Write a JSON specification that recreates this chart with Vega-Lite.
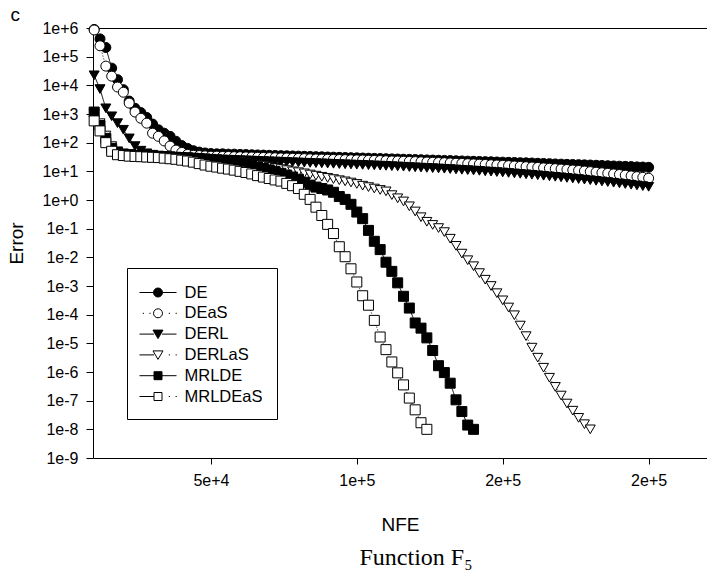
{
"$schema": "https://vega.github.io/schema/vega-lite/v6.json",
"width": 614, "height": 430,
"autosize": {"type": "none"},
"padding": {"left": 93, "top": 28, "right": 0, "bottom": 112},
"background": "white",
"title": {"text": "Function F₅", "orient": "bottom", "frame": "group", "anchor": "middle", "dx": 16, "font": "Liberation Serif", "fontSize": 24, "fontWeight": "normal", "color": "black", "offset": 12},
"data": {"values": [
{"s":"DE","x":10000,"y":891000},{"s":"DE","x":12000,"y":417000},{"s":"DE","x":14000,"y":209000},{"s":"DE","x":16000,"y":39800},{"s":"DE","x":18000,"y":15800},{"s":"DE","x":20000,"y":7080},{"s":"DE","x":22000,"y":2820},{"s":"DE","x":24000,"y":1580},{"s":"DE","x":26000,"y":1120},{"s":"DE","x":28000,"y":759},{"s":"DE","x":30000,"y":447},{"s":"DE","x":32000,"y":282},{"s":"DE","x":34000,"y":214},{"s":"DE","x":36000,"y":166},{"s":"DE","x":38000,"y":112},{"s":"DE","x":40000,"y":79.4},{"s":"DE","x":42000,"y":63.1},{"s":"DE","x":44000,"y":52.5},{"s":"DE","x":46000,"y":46.8},{"s":"DE","x":48000,"y":43.7},{"s":"DE","x":50000,"y":41.7},{"s":"DE","x":52000,"y":40.7},{"s":"DE","x":54000,"y":40.7},{"s":"DE","x":56000,"y":39.8},{"s":"DE","x":58000,"y":39.8},{"s":"DE","x":60000,"y":38.9},{"s":"DE","x":62000,"y":38.5},{"s":"DE","x":64000,"y":37.8},{"s":"DE","x":66000,"y":37.3},{"s":"DE","x":68000,"y":36.8},{"s":"DE","x":70000,"y":36.3},{"s":"DE","x":72000,"y":35.8},{"s":"DE","x":74000,"y":35.3},{"s":"DE","x":76000,"y":34.8},{"s":"DE","x":78000,"y":34.4},{"s":"DE","x":80000,"y":33.9},{"s":"DE","x":82000,"y":33.4},{"s":"DE","x":84000,"y":33.0},{"s":"DE","x":86000,"y":32.5},{"s":"DE","x":88000,"y":32.1},{"s":"DE","x":90000,"y":31.6},{"s":"DE","x":92000,"y":31.2},{"s":"DE","x":94000,"y":30.8},{"s":"DE","x":96000,"y":30.3},{"s":"DE","x":98000,"y":29.9},{"s":"DE","x":100000,"y":29.5},{"s":"DE","x":102000,"y":29.1},{"s":"DE","x":104000,"y":28.7},{"s":"DE","x":106000,"y":28.3},{"s":"DE","x":108000,"y":27.9},{"s":"DE","x":110000,"y":27.5},{"s":"DE","x":112000,"y":27.2},{"s":"DE","x":114000,"y":26.8},{"s":"DE","x":116000,"y":26.4},{"s":"DE","x":118000,"y":26.1},{"s":"DE","x":120000,"y":25.7},{"s":"DE","x":122000,"y":25.4},{"s":"DE","x":124000,"y":25.0},{"s":"DE","x":126000,"y":24.7},{"s":"DE","x":128000,"y":24.3},{"s":"DE","x":130000,"y":24.0},{"s":"DE","x":132000,"y":23.7},{"s":"DE","x":134000,"y":23.3},{"s":"DE","x":136000,"y":23.0},{"s":"DE","x":138000,"y":22.7},{"s":"DE","x":140000,"y":22.4},{"s":"DE","x":142000,"y":22.1},{"s":"DE","x":144000,"y":21.8},{"s":"DE","x":146000,"y":21.5},{"s":"DE","x":148000,"y":21.2},{"s":"DE","x":150000,"y":20.9},{"s":"DE","x":152000,"y":20.6},{"s":"DE","x":154000,"y":20.3},{"s":"DE","x":156000,"y":20.0},{"s":"DE","x":158000,"y":19.8},{"s":"DE","x":160000,"y":19.5},{"s":"DE","x":162000,"y":19.1},{"s":"DE","x":164000,"y":18.8},{"s":"DE","x":166000,"y":18.5},{"s":"DE","x":168000,"y":18.1},{"s":"DE","x":170000,"y":17.8},{"s":"DE","x":172000,"y":17.5},{"s":"DE","x":174000,"y":17.3},{"s":"DE","x":176000,"y":17.1},{"s":"DE","x":178000,"y":16.8},{"s":"DE","x":180000,"y":16.6},{"s":"DE","x":182000,"y":16.3},{"s":"DE","x":184000,"y":16.0},{"s":"DE","x":186000,"y":15.7},{"s":"DE","x":188000,"y":15.4},{"s":"DE","x":190000,"y":15.1},{"s":"DE","x":192000,"y":14.9},{"s":"DE","x":194000,"y":14.6},{"s":"DE","x":196000,"y":14.3},{"s":"DE","x":198000,"y":14.1},{"s":"DE","x":200000,"y":13.8},
{"s":"DEaS","x":10000,"y":851000},{"s":"DEaS","x":12000,"y":240000},{"s":"DEaS","x":14000,"y":46800},{"s":"DEaS","x":16000,"y":20900},{"s":"DEaS","x":18000,"y":8710},{"s":"DEaS","x":20000,"y":5750},{"s":"DEaS","x":22000,"y":2400},{"s":"DEaS","x":24000,"y":1170},{"s":"DEaS","x":26000,"y":708},{"s":"DEaS","x":28000,"y":479},{"s":"DEaS","x":30000,"y":214},{"s":"DEaS","x":32000,"y":166},{"s":"DEaS","x":34000,"y":115},{"s":"DEaS","x":36000,"y":75.9},{"s":"DEaS","x":38000,"y":55.0},{"s":"DEaS","x":40000,"y":45.7},{"s":"DEaS","x":42000,"y":38.9},{"s":"DEaS","x":44000,"y":36.3},{"s":"DEaS","x":46000,"y":35.5},{"s":"DEaS","x":48000,"y":34.7},{"s":"DEaS","x":50000,"y":33.9},{"s":"DEaS","x":52000,"y":33.9},{"s":"DEaS","x":54000,"y":33.1},{"s":"DEaS","x":56000,"y":33.1},{"s":"DEaS","x":58000,"y":32.4},{"s":"DEaS","x":60000,"y":32.4},{"s":"DEaS","x":62000,"y":31.9},{"s":"DEaS","x":64000,"y":31.5},{"s":"DEaS","x":66000,"y":31.0},{"s":"DEaS","x":68000,"y":30.6},{"s":"DEaS","x":70000,"y":30.2},{"s":"DEaS","x":72000,"y":29.8},{"s":"DEaS","x":74000,"y":29.4},{"s":"DEaS","x":76000,"y":29.0},{"s":"DEaS","x":78000,"y":28.6},{"s":"DEaS","x":80000,"y":28.2},{"s":"DEaS","x":82000,"y":27.8},{"s":"DEaS","x":84000,"y":27.4},{"s":"DEaS","x":86000,"y":27.0},{"s":"DEaS","x":88000,"y":26.7},{"s":"DEaS","x":90000,"y":26.3},{"s":"DEaS","x":92000,"y":26.1},{"s":"DEaS","x":94000,"y":25.8},{"s":"DEaS","x":96000,"y":25.6},{"s":"DEaS","x":98000,"y":25.4},{"s":"DEaS","x":100000,"y":25.1},{"s":"DEaS","x":102000,"y":24.8},{"s":"DEaS","x":104000,"y":24.4},{"s":"DEaS","x":106000,"y":24.1},{"s":"DEaS","x":108000,"y":23.8},{"s":"DEaS","x":110000,"y":23.4},{"s":"DEaS","x":112000,"y":23.1},{"s":"DEaS","x":114000,"y":22.8},{"s":"DEaS","x":116000,"y":22.5},{"s":"DEaS","x":118000,"y":22.2},{"s":"DEaS","x":120000,"y":21.9},{"s":"DEaS","x":122000,"y":21.5},{"s":"DEaS","x":124000,"y":21.1},{"s":"DEaS","x":126000,"y":20.7},{"s":"DEaS","x":128000,"y":20.3},{"s":"DEaS","x":130000,"y":20.0},{"s":"DEaS","x":132000,"y":19.6},{"s":"DEaS","x":134000,"y":19.2},{"s":"DEaS","x":136000,"y":18.9},{"s":"DEaS","x":138000,"y":18.5},{"s":"DEaS","x":140000,"y":18.2},{"s":"DEaS","x":142000,"y":17.8},{"s":"DEaS","x":144000,"y":17.4},{"s":"DEaS","x":146000,"y":17.0},{"s":"DEaS","x":148000,"y":16.6},{"s":"DEaS","x":150000,"y":16.2},{"s":"DEaS","x":152000,"y":15.8},{"s":"DEaS","x":154000,"y":15.3},{"s":"DEaS","x":156000,"y":14.9},{"s":"DEaS","x":158000,"y":14.5},{"s":"DEaS","x":160000,"y":14.1},{"s":"DEaS","x":162000,"y":13.7},{"s":"DEaS","x":164000,"y":13.2},{"s":"DEaS","x":166000,"y":12.8},{"s":"DEaS","x":168000,"y":12.4},{"s":"DEaS","x":170000,"y":12.0},{"s":"DEaS","x":172000,"y":11.6},{"s":"DEaS","x":174000,"y":11.1},{"s":"DEaS","x":176000,"y":10.7},{"s":"DEaS","x":178000,"y":10.2},{"s":"DEaS","x":180000,"y":9.77},{"s":"DEaS","x":182000,"y":9.33},{"s":"DEaS","x":184000,"y":8.91},{"s":"DEaS","x":186000,"y":8.51},{"s":"DEaS","x":188000,"y":8.13},{"s":"DEaS","x":190000,"y":7.76},{"s":"DEaS","x":192000,"y":7.33},{"s":"DEaS","x":194000,"y":6.92},{"s":"DEaS","x":196000,"y":6.53},{"s":"DEaS","x":198000,"y":6.17},{"s":"DEaS","x":200000,"y":5.75},
{"s":"DERL","x":10000,"y":22400},{"s":"DERL","x":12000,"y":7410},{"s":"DERL","x":14000,"y":1580},{"s":"DERL","x":16000,"y":832},{"s":"DERL","x":18000,"y":479},{"s":"DERL","x":20000,"y":282},{"s":"DERL","x":22000,"y":141},{"s":"DERL","x":24000,"y":75.9},{"s":"DERL","x":26000,"y":52.5},{"s":"DERL","x":28000,"y":42.7},{"s":"DERL","x":30000,"y":38.0},{"s":"DERL","x":32000,"y":35.5},{"s":"DERL","x":34000,"y":33.9},{"s":"DERL","x":36000,"y":33.1},{"s":"DERL","x":38000,"y":31.6},{"s":"DERL","x":40000,"y":30.9},{"s":"DERL","x":42000,"y":30.2},{"s":"DERL","x":44000,"y":29.5},{"s":"DERL","x":46000,"y":28.5},{"s":"DERL","x":48000,"y":27.7},{"s":"DERL","x":50000,"y":26.9},{"s":"DERL","x":52000,"y":26.4},{"s":"DERL","x":54000,"y":25.9},{"s":"DERL","x":56000,"y":25.5},{"s":"DERL","x":58000,"y":25.0},{"s":"DERL","x":60000,"y":24.5},{"s":"DERL","x":62000,"y":24.1},{"s":"DERL","x":64000,"y":23.7},{"s":"DERL","x":66000,"y":23.2},{"s":"DERL","x":68000,"y":22.8},{"s":"DERL","x":70000,"y":22.4},{"s":"DERL","x":72000,"y":22.0},{"s":"DERL","x":74000,"y":21.6},{"s":"DERL","x":76000,"y":21.2},{"s":"DERL","x":78000,"y":20.8},{"s":"DERL","x":80000,"y":20.4},{"s":"DERL","x":82000,"y":20.0},{"s":"DERL","x":84000,"y":19.7},{"s":"DERL","x":86000,"y":19.3},{"s":"DERL","x":88000,"y":19.0},{"s":"DERL","x":90000,"y":18.6},{"s":"DERL","x":92000,"y":18.3},{"s":"DERL","x":94000,"y":17.9},{"s":"DERL","x":96000,"y":17.6},{"s":"DERL","x":98000,"y":17.3},{"s":"DERL","x":100000,"y":17.0},{"s":"DERL","x":102000,"y":16.7},{"s":"DERL","x":104000,"y":16.4},{"s":"DERL","x":106000,"y":16.1},{"s":"DERL","x":108000,"y":15.8},{"s":"DERL","x":110000,"y":15.5},{"s":"DERL","x":112000,"y":15.1},{"s":"DERL","x":114000,"y":14.8},{"s":"DERL","x":116000,"y":14.5},{"s":"DERL","x":118000,"y":14.1},{"s":"DERL","x":120000,"y":13.8},{"s":"DERL","x":122000,"y":13.5},{"s":"DERL","x":124000,"y":13.2},{"s":"DERL","x":126000,"y":12.9},{"s":"DERL","x":128000,"y":12.6},{"s":"DERL","x":130000,"y":12.3},{"s":"DERL","x":132000,"y":12.0},{"s":"DERL","x":134000,"y":11.6},{"s":"DERL","x":136000,"y":11.3},{"s":"DERL","x":138000,"y":11.0},{"s":"DERL","x":140000,"y":10.7},{"s":"DERL","x":142000,"y":10.4},{"s":"DERL","x":144000,"y":10.0},{"s":"DERL","x":146000,"y":9.73},{"s":"DERL","x":148000,"y":9.42},{"s":"DERL","x":150000,"y":9.12},{"s":"DERL","x":152000,"y":8.79},{"s":"DERL","x":154000,"y":8.47},{"s":"DERL","x":156000,"y":8.17},{"s":"DERL","x":158000,"y":7.87},{"s":"DERL","x":160000,"y":7.59},{"s":"DERL","x":162000,"y":7.28},{"s":"DERL","x":164000,"y":6.98},{"s":"DERL","x":166000,"y":6.70},{"s":"DERL","x":168000,"y":6.43},{"s":"DERL","x":170000,"y":6.17},{"s":"DERL","x":172000,"y":5.89},{"s":"DERL","x":174000,"y":5.62},{"s":"DERL","x":176000,"y":5.37},{"s":"DERL","x":178000,"y":5.13},{"s":"DERL","x":180000,"y":4.90},{"s":"DERL","x":182000,"y":4.66},{"s":"DERL","x":184000,"y":4.43},{"s":"DERL","x":186000,"y":4.21},{"s":"DERL","x":188000,"y":4.00},{"s":"DERL","x":190000,"y":3.80},{"s":"DERL","x":192000,"y":3.60},{"s":"DERL","x":194000,"y":3.40},{"s":"DERL","x":196000,"y":3.22},{"s":"DERL","x":198000,"y":3.05},{"s":"DERL","x":200000,"y":2.88},
{"s":"DERLaS","x":10000,"y":1000},{"s":"DERLaS","x":12000,"y":479},{"s":"DERLaS","x":14000,"y":178},{"s":"DERLaS","x":16000,"y":75.9},{"s":"DERLaS","x":18000,"y":50.1},{"s":"DERLaS","x":20000,"y":41.7},{"s":"DERLaS","x":22000,"y":38.9},{"s":"DERLaS","x":24000,"y":37.2},{"s":"DERLaS","x":26000,"y":36.3},{"s":"DERLaS","x":28000,"y":35.5},{"s":"DERLaS","x":30000,"y":34.7},{"s":"DERLaS","x":32000,"y":33.9},{"s":"DERLaS","x":34000,"y":33.1},{"s":"DERLaS","x":36000,"y":32.4},{"s":"DERLaS","x":38000,"y":31.6},{"s":"DERLaS","x":40000,"y":30.9},{"s":"DERLaS","x":42000,"y":30.2},{"s":"DERLaS","x":44000,"y":29.5},{"s":"DERLaS","x":46000,"y":28.8},{"s":"DERLaS","x":48000,"y":28.2},{"s":"DERLaS","x":50000,"y":27.5},{"s":"DERLaS","x":52000,"y":26.3},{"s":"DERLaS","x":54000,"y":25.1},{"s":"DERLaS","x":56000,"y":24.0},{"s":"DERLaS","x":58000,"y":22.4},{"s":"DERLaS","x":60000,"y":20.9},{"s":"DERLaS","x":62000,"y":19.5},{"s":"DERLaS","x":64000,"y":18.2},{"s":"DERLaS","x":66000,"y":17.0},{"s":"DERLaS","x":68000,"y":15.8},{"s":"DERLaS","x":70000,"y":14.5},{"s":"DERLaS","x":72000,"y":13.2},{"s":"DERLaS","x":74000,"y":12.0},{"s":"DERLaS","x":76000,"y":11.0},{"s":"DERLaS","x":78000,"y":10.0},{"s":"DERLaS","x":80000,"y":9.33},{"s":"DERLaS","x":82000,"y":8.51},{"s":"DERLaS","x":84000,"y":7.76},{"s":"DERLaS","x":86000,"y":7.08},{"s":"DERLaS","x":88000,"y":6.46},{"s":"DERLaS","x":90000,"y":5.89},{"s":"DERLaS","x":92000,"y":5.37},{"s":"DERLaS","x":94000,"y":4.90},{"s":"DERLaS","x":96000,"y":4.47},{"s":"DERLaS","x":98000,"y":4.07},{"s":"DERLaS","x":100000,"y":3.63},{"s":"DERLaS","x":102000,"y":3.16},{"s":"DERLaS","x":104000,"y":2.82},{"s":"DERLaS","x":106000,"y":2.51},{"s":"DERLaS","x":108000,"y":2.24},{"s":"DERLaS","x":110000,"y":2.00},{"s":"DERLaS","x":112000,"y":1.48},{"s":"DERLaS","x":114000,"y":1.15},{"s":"DERLaS","x":116000,"y":0.891},{"s":"DERLaS","x":118000,"y":0.603},{"s":"DERLaS","x":120000,"y":0.398},{"s":"DERLaS","x":122000,"y":0.251},{"s":"DERLaS","x":124000,"y":0.174},{"s":"DERLaS","x":126000,"y":0.135},{"s":"DERLaS","x":128000,"y":0.105},{"s":"DERLaS","x":130000,"y":0.0759},{"s":"DERLaS","x":132000,"y":0.0447},{"s":"DERLaS","x":134000,"y":0.0251},{"s":"DERLaS","x":136000,"y":0.0135},{"s":"DERLaS","x":138000,"y":0.00794},{"s":"DERLaS","x":140000,"y":0.0049},{"s":"DERLaS","x":142000,"y":0.00282},{"s":"DERLaS","x":144000,"y":0.00166},{"s":"DERLaS","x":146000,"y":0.001},{"s":"DERLaS","x":148000,"y":0.000562},{"s":"DERLaS","x":150000,"y":0.000316},{"s":"DERLaS","x":152000,"y":0.000178},{"s":"DERLaS","x":154000,"y":9.55e-5},{"s":"DERLaS","x":156000,"y":4.17e-5},{"s":"DERLaS","x":158000,"y":1.78e-5},{"s":"DERLaS","x":160000,"y":7.08e-6},{"s":"DERLaS","x":162000,"y":3.16e-6},{"s":"DERLaS","x":164000,"y":1.41e-6},{"s":"DERLaS","x":166000,"y":6.31e-7},{"s":"DERLaS","x":168000,"y":3.02e-7},{"s":"DERLaS","x":170000,"y":1.51e-7},{"s":"DERLaS","x":172000,"y":7.94e-8},{"s":"DERLaS","x":174000,"y":4.47e-8},{"s":"DERLaS","x":176000,"y":2.51e-8},{"s":"DERLaS","x":178000,"y":1.51e-8},{"s":"DERLaS","x":180000,"y":1.0e-8},
{"s":"MRLDE","x":10000,"y":1170},{"s":"MRLDE","x":12000,"y":398},{"s":"MRLDE","x":14000,"y":141},{"s":"MRLDE","x":16000,"y":63.1},{"s":"MRLDE","x":18000,"y":45.7},{"s":"MRLDE","x":20000,"y":39.8},{"s":"MRLDE","x":22000,"y":38.0},{"s":"MRLDE","x":24000,"y":36.3},{"s":"MRLDE","x":26000,"y":35.5},{"s":"MRLDE","x":28000,"y":34.7},{"s":"MRLDE","x":30000,"y":33.9},{"s":"MRLDE","x":32000,"y":33.1},{"s":"MRLDE","x":34000,"y":32.4},{"s":"MRLDE","x":36000,"y":31.6},{"s":"MRLDE","x":38000,"y":30.9},{"s":"MRLDE","x":40000,"y":30.2},{"s":"MRLDE","x":42000,"y":29.5},{"s":"MRLDE","x":44000,"y":28.8},{"s":"MRLDE","x":46000,"y":27.5},{"s":"MRLDE","x":48000,"y":26.3},{"s":"MRLDE","x":50000,"y":25.1},{"s":"MRLDE","x":52000,"y":24.0},{"s":"MRLDE","x":54000,"y":22.9},{"s":"MRLDE","x":56000,"y":21.9},{"s":"MRLDE","x":58000,"y":20.4},{"s":"MRLDE","x":60000,"y":19.1},{"s":"MRLDE","x":62000,"y":17.8},{"s":"MRLDE","x":64000,"y":15.8},{"s":"MRLDE","x":66000,"y":14.1},{"s":"MRLDE","x":68000,"y":12.6},{"s":"MRLDE","x":70000,"y":11.2},{"s":"MRLDE","x":72000,"y":9.77},{"s":"MRLDE","x":74000,"y":8.51},{"s":"MRLDE","x":76000,"y":7.41},{"s":"MRLDE","x":78000,"y":6.31},{"s":"MRLDE","x":80000,"y":5.25},{"s":"MRLDE","x":82000,"y":4.17},{"s":"MRLDE","x":84000,"y":3.31},{"s":"MRLDE","x":86000,"y":2.82},{"s":"MRLDE","x":88000,"y":2.51},{"s":"MRLDE","x":90000,"y":2.24},{"s":"MRLDE","x":92000,"y":1.86},{"s":"MRLDE","x":94000,"y":1.32},{"s":"MRLDE","x":96000,"y":1.05},{"s":"MRLDE","x":98000,"y":0.708},{"s":"MRLDE","x":100000,"y":0.38},{"s":"MRLDE","x":102000,"y":0.224},{"s":"MRLDE","x":104000,"y":0.0871},{"s":"MRLDE","x":106000,"y":0.0363},{"s":"MRLDE","x":108000,"y":0.0186},{"s":"MRLDE","x":110000,"y":0.00676},{"s":"MRLDE","x":112000,"y":0.00324},{"s":"MRLDE","x":114000,"y":0.00129},{"s":"MRLDE","x":116000,"y":0.000437},{"s":"MRLDE","x":118000,"y":0.00017},{"s":"MRLDE","x":120000,"y":5.13e-5},{"s":"MRLDE","x":122000,"y":3.39e-5},{"s":"MRLDE","x":124000,"y":1.55e-5},{"s":"MRLDE","x":126000,"y":5.62e-6},{"s":"MRLDE","x":128000,"y":1.66e-6},{"s":"MRLDE","x":130000,"y":9.55e-7},{"s":"MRLDE","x":132000,"y":4.07e-7},{"s":"MRLDE","x":134000,"y":1.07e-7},{"s":"MRLDE","x":136000,"y":4.17e-8},{"s":"MRLDE","x":138000,"y":1.41e-8},{"s":"MRLDE","x":140000,"y":1.0e-8},
{"s":"MRLDEaS","x":10000,"y":575},{"s":"MRLDEaS","x":12000,"y":257},{"s":"MRLDEaS","x":14000,"y":100},{"s":"MRLDEaS","x":16000,"y":50.1},{"s":"MRLDEaS","x":18000,"y":38.0},{"s":"MRLDEaS","x":20000,"y":35.5},{"s":"MRLDEaS","x":22000,"y":33.9},{"s":"MRLDEaS","x":24000,"y":33.1},{"s":"MRLDEaS","x":26000,"y":32.4},{"s":"MRLDEaS","x":28000,"y":31.6},{"s":"MRLDEaS","x":30000,"y":30.9},{"s":"MRLDEaS","x":32000,"y":30.2},{"s":"MRLDEaS","x":34000,"y":28.8},{"s":"MRLDEaS","x":36000,"y":27.5},{"s":"MRLDEaS","x":38000,"y":26.3},{"s":"MRLDEaS","x":40000,"y":24.5},{"s":"MRLDEaS","x":42000,"y":22.9},{"s":"MRLDEaS","x":44000,"y":20.9},{"s":"MRLDEaS","x":46000,"y":18.6},{"s":"MRLDEaS","x":48000,"y":16.6},{"s":"MRLDEaS","x":50000,"y":15.1},{"s":"MRLDEaS","x":52000,"y":14.1},{"s":"MRLDEaS","x":54000,"y":12.9},{"s":"MRLDEaS","x":56000,"y":12.0},{"s":"MRLDEaS","x":58000,"y":11.0},{"s":"MRLDEaS","x":60000,"y":10.0},{"s":"MRLDEaS","x":62000,"y":9.12},{"s":"MRLDEaS","x":64000,"y":8.13},{"s":"MRLDEaS","x":66000,"y":7.08},{"s":"MRLDEaS","x":68000,"y":6.31},{"s":"MRLDEaS","x":70000,"y":5.62},{"s":"MRLDEaS","x":72000,"y":5.01},{"s":"MRLDEaS","x":74000,"y":4.57},{"s":"MRLDEaS","x":76000,"y":3.80},{"s":"MRLDEaS","x":78000,"y":3.16},{"s":"MRLDEaS","x":80000,"y":2.51},{"s":"MRLDEaS","x":82000,"y":1.58},{"s":"MRLDEaS","x":84000,"y":1.05},{"s":"MRLDEaS","x":86000,"y":0.562},{"s":"MRLDEaS","x":88000,"y":0.288},{"s":"MRLDEaS","x":90000,"y":0.141},{"s":"MRLDEaS","x":92000,"y":0.0676},{"s":"MRLDEaS","x":94000,"y":0.0234},{"s":"MRLDEaS","x":96000,"y":0.0105},{"s":"MRLDEaS","x":98000,"y":0.00398},{"s":"MRLDEaS","x":100000,"y":0.00138},{"s":"MRLDEaS","x":102000,"y":0.000457},{"s":"MRLDEaS","x":104000,"y":0.000214},{"s":"MRLDEaS","x":106000,"y":6.31e-5},{"s":"MRLDEaS","x":108000,"y":1.66e-5},{"s":"MRLDEaS","x":110000,"y":6.03e-6},{"s":"MRLDEaS","x":112000,"y":2.24e-6},{"s":"MRLDEaS","x":114000,"y":9.33e-7},{"s":"MRLDEaS","x":116000,"y":3.55e-7},{"s":"MRLDEaS","x":118000,"y":1.23e-7},{"s":"MRLDEaS","x":120000,"y":4.79e-8},{"s":"MRLDEaS","x":122000,"y":1.7e-8},{"s":"MRLDEaS","x":124000,"y":1.0e-8}
]},
"encoding": {
  "y": {"field": "y", "type": "quantitative",
    "scale": {"type": "log", "domain": [1e-9, 1e6], "nice": false},
    "axis": {"values": [1e-9,1e-8,1e-7,1e-6,1e-5,1e-4,1e-3,1e-2,1e-1,1,10,100,1000,10000,100000,1000000],
      "format": ".0e", "title": "Error", "tickSize": 7, "labelPadding": 8,
      "titleX": -77, "titleY": 215, "titleAngle": -90, "titleBaseline": "middle", "titleAlign": "center"}}
},
"layer": [
  {"mark": {"type": "line", "color": "black", "strokeWidth": 1},
   "encoding": {
     "x": {"field": "x", "type": "quantitative",
       "scale": {"domain": [9600, 220000], "nice": false, "zero": false},
       "axis": {"orient": "top", "title": "c", "labels": false, "ticks": false, "domain": true,
         "titleX": -83, "titleY": -8, "titleAngle": 0, "titleAlign": "left", "titleBaseline": "alphabetic", "titleFontSize": 19}},
     "strokeDash": {"field": "s", "type": "nominal",
       "scale": {"domain": ["DE","DEaS","DERL","DERLaS","MRLDE","MRLDEaS","-"], "range": [[1,0],[1,2],[1,0],[1,2],[1,0],[1,2],[1,0]]},
       "legend": null}
   }},
  {"mark": {"type": "point", "opacity": 1, "stroke": "black", "strokeWidth": 1},
   "encoding": {
     "x": {"field": "x", "type": "quantitative",
       "scale": {"domain": [9600, 220000], "nice": false, "zero": false},
       "axis": {"orient": "bottom", "values": [50000, 100000, 150000, 200000], "format": ".0e", "title": "NFE",
         "tickSize": 6, "labelPadding": 8, "titleY": 66, "titleBaseline": "middle"}},
     "fill": {"field": "s", "type": "nominal",
       "scale": {"domain": ["DE","DEaS","DERL","DERLaS","MRLDE","MRLDEaS","-"], "range": ["black","white","black","white","black","white","white"]},
       "legend": null},
     "shape": {"field": "s", "type": "nominal",
       "scale": {"domain": ["DE","DEaS","DERL","DERLaS","MRLDE","MRLDEaS","-"], "range": ["circle","circle","triangle-down","triangle-down","square","square","square"]},
       "legend": null},
     "size": {"field": "s", "type": "nominal",
       "scale": {"domain": ["DE","DEaS","DERL","DERLaS","MRLDE","MRLDEaS","-"], "range": [100,100,100,100,72,72,72]},
       "legend": null}
   }},
  {"transform": [{"filter": "datum.x < 0"}],
   "mark": {"type": "point", "opacity": 1, "strokeWidth": 1},
   "encoding": {
     "x": {"field": "x", "type": "quantitative",
       "scale": {"domain": [9600, 220000], "nice": false, "zero": false}, "axis": null},
     "fill": {"field": "s", "type": "nominal",
       "scale": {"domain": ["DE","DEaS","DERL","DERLaS","MRLDE","MRLDEaS"], "range": ["black","white","black","white","black","white"]},
       "legend": {"title": null, "orient": "none", "legendX": 34, "legendY": 240, "padding": 14,
         "strokeColor": "black", "fillColor": "white", "symbolSize": 400, "symbolOffset": 6.5, "labelOffset": 16, "rowPadding": 1.8,
         "labelFontSize": 16.5, "labelFont": "Liberation Sans", "labelColor": "black", "symbolStrokeWidth": 1, "symbolOpacity": 1}},
     "stroke": {"field": "s", "type": "nominal",
       "scale": {"domain": ["DE","DEaS","DERL","DERLaS","MRLDE","MRLDEaS"], "range": ["black","black","black","black","black","black"]},
       "legend": {"title": null, "orient": "none", "legendX": 34, "legendY": 240, "padding": 14,
         "strokeColor": "black", "fillColor": "white", "symbolSize": 400, "symbolOffset": 6.5, "labelOffset": 16, "rowPadding": 1.8,
         "labelFontSize": 16.5, "labelFont": "Liberation Sans", "labelColor": "black", "symbolStrokeWidth": 1, "symbolOpacity": 1}},
     "shape": {"field": "s", "type": "nominal",
       "scale": {"domain": ["DE","DEaS","DERL","DERLaS","MRLDE","MRLDEaS"], "range": [
         "M-1.85,0L-0.45,0M0.45,0L1.85,0M0.45,0A0.45,0.45 0 1,1 -0.45,0A0.45,0.45 0 1,1 0.45,0Z",
         "M-1.52,0L-1.4,0M-0.86,0L-0.74,0M1.08,0L1.2,0M1.76,0L1.88,0M0.45,0A0.45,0.45 0 1,1 -0.45,0A0.45,0.45 0 1,1 0.45,0Z",
         "M-1.85,0L-0.4,0M0.4,0L1.85,0M-0.5,-0.4L0.5,-0.4L0,0.45Z",
         "M-1.85,0L-0.4,0M1.08,0L1.2,0M1.76,0L1.88,0M-0.5,-0.4L0.5,-0.4L0,0.45Z",
         "M-1.85,0L-0.4,0M0.4,0L1.85,0M-0.4,-0.4L0.4,-0.4L0.4,0.4L-0.4,0.4Z",
         "M-1.85,0L-0.4,0M1.08,0L1.2,0M1.76,0L1.88,0M-0.4,-0.4L0.4,-0.4L0.4,0.4L-0.4,0.4Z"]},
       "legend": {"title": null, "orient": "none", "legendX": 34, "legendY": 240, "padding": 14,
         "strokeColor": "black", "fillColor": "white", "symbolSize": 400, "symbolOffset": 6.5, "labelOffset": 16, "rowPadding": 1.8,
         "labelFontSize": 16.5, "labelFont": "Liberation Sans", "labelColor": "black", "symbolStrokeWidth": 1, "symbolOpacity": 1}}
   }}
],
"resolve": {"scale": {"x": "independent", "shape": "independent", "fill": "independent", "stroke": "independent"}},
"config": {
  "view": {"stroke": null},
  "axis": {"grid": false, "domainColor": "black", "tickColor": "black", "labelColor": "black", "titleColor": "black",
    "labelFont": "Liberation Sans", "titleFont": "Liberation Sans", "labelFontSize": 16, "titleFontSize": 19,
    "titleFontWeight": "normal", "domainWidth": 1, "tickWidth": 1}
}
}
